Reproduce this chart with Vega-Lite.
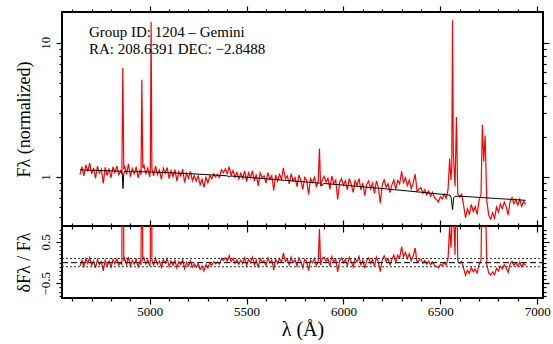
{
  "$schema": "https://vega.github.io/schema/vega-lite/v6.json",
  "padding": {"left": 14, "top": 4, "right": 2, "bottom": 0},
  "background": "white",
  "spacing": 0,
  "bounds": "flush",
  "config": {
    "font": "Liberation Serif",
    "view": {"stroke": "black", "strokeWidth": 2},
    "axis": {"domain": false, "grid": false, "tickColor": "black", "tickWidth": 1.2, "labelFont": "Liberation Serif", "labelFontSize": 13, "labelColor": "black", "titleFont": "Liberation Serif", "titleFontWeight": "normal", "titleColor": "black"}
  },
  "datasets": {
    "spec": [
      {"l":4640,"f":1.042,"r":-0.078},{"l":4650,"f":1.194,"r":0.058},{"l":4660,"f":1.021,"r":-0.095},{"l":4670,"f":1.230,"r":0.092},{"l":4680,"f":1.095,"r":-0.027},{"l":4690,"f":1.266,"r":0.126},{"l":4700,"f":1.054,"r":-0.061},{"l":4710,"f":1.167,"r":0.041},{"l":4720,"f":0.976,"r":-0.129},{"l":4730,"f":1.203,"r":0.075},{"l":4740,"f":1.069,"r":-0.044},{"l":4750,"f":1.143,"r":0.024},{"l":4760,"f":0.895,"r":-0.197},{"l":4770,"f":1.179,"r":0.058},{"l":4780,"f":1.026,"r":-0.078},{"l":4790,"f":1.157,"r":0.041},{"l":4800,"f":0.986,"r":-0.112},{"l":4810,"f":1.192,"r":0.075},{"l":4820,"f":1.078,"r":-0.027},{"l":4830,"f":1.209,"r":0.092},{"l":4840,"f":1.039,"r":-0.061},{"l":4850,"f":1.113,"r":0.007},{"l":4856,"f":1.055,"r":-0.044},{"l":4861,"f":6.5,"r":6.9},{"l":4866,"f":1.141,"r":0.034},{"l":4870,"f":1.216,"r":0.102},{"l":4880,"f":1.046,"r":-0.051},{"l":4890,"f":1.251,"r":0.136},{"l":4900,"f":1.007,"r":-0.085},{"l":4910,"f":1.155,"r":0.051},{"l":4920,"f":1.061,"r":-0.034},{"l":4930,"f":1.190,"r":0.085},{"l":4940,"f":0.984,"r":-0.102},{"l":4950,"f":1.132,"r":0.034},{"l":4955,"f":1.039,"r":-0.051},{"l":4959,"f":5.3,"r":3.84},{"l":4964,"f":1.168,"r":0.068},{"l":4970,"f":1.223,"r":0.119},{"l":4980,"f":1.055,"r":-0.034},{"l":4990,"f":1.165,"r":0.068},{"l":5000,"f":0.997,"r":-0.085},{"l":5003,"f":1.127,"r":0.034},{"l":5007,"f":14.3,"r":12.1},{"l":5011,"f":1.152,"r":0.058},{"l":5020,"f":1.021,"r":-0.061},{"l":5030,"f":1.204,"r":0.109},{"l":5040,"f":1.036,"r":-0.044},{"l":5050,"f":1.127,"r":0.041},{"l":5060,"f":0.960,"r":-0.112},{"l":5070,"f":1.161,"r":0.075},{"l":5080,"f":1.067,"r":-0.010},{"l":5090,"f":1.176,"r":0.092},{"l":5100,"f":0.973,"r":-0.095},{"l":5110,"f":1.118,"r":0.041},{"l":5120,"f":1.007,"r":-0.061},{"l":5130,"f":1.133,"r":0.058},{"l":5140,"f":0.931,"r":-0.129},{"l":5150,"f":1.094,"r":0.024},{"l":5160,"f":1.019,"r":-0.044},{"l":5170,"f":1.145,"r":0.075},{"l":5180,"f":0.908,"r":-0.146},{"l":5190,"f":1.069,"r":0.007},{"l":5200,"f":0.977,"r":-0.078},{"l":5210,"f":1.101,"r":0.041},{"l":5220,"f":0.938,"r":-0.112},{"l":5230,"f":1.026,"r":-0.027},{"l":5240,"f":0.932,"r":-0.114},{"l":5250,"f":1.020,"r":-0.029},{"l":5260,"f":0.875,"r":-0.165},{"l":5270,"f":0.962,"r":-0.080},{"l":5280,"f":0.836,"r":-0.199},{"l":5290,"f":0.994,"r":-0.046},{"l":5300,"f":0.904,"r":-0.131},{"l":5310,"f":1.026,"r":-0.012},{"l":5320,"f":0.971,"r":-0.063},{"l":5330,"f":1.057,"r":0.022},{"l":5340,"f":1.002,"r":-0.029},{"l":5350,"f":1.048,"r":0.017},{"l":5360,"f":0.993,"r":-0.034},{"l":5370,"f":1.131,"r":0.102},{"l":5380,"f":1.076,"r":0.051},{"l":5390,"f":1.146,"r":0.121},{"l":5400,"f":1.057,"r":0.036},{"l":5410,"f":1.192,"r":0.172},{"l":5420,"f":1.034,"r":0.019},{"l":5430,"f":1.118,"r":0.104},{"l":5440,"f":0.995,"r":-0.015},{"l":5450,"f":1.078,"r":0.070},{"l":5460,"f":0.967,"r":-0.038},{"l":5470,"f":1.067,"r":0.064},{"l":5480,"f":0.979,"r":-0.021},{"l":5490,"f":1.112,"r":0.115},{"l":5500,"f":0.923,"r":-0.072},{"l":5510,"f":1.073,"r":0.081},{"l":5520,"f":0.986,"r":-0.004},{"l":5530,"f":1.117,"r":0.132},{"l":5540,"f":0.931,"r":-0.055},{"l":5550,"f":1.045,"r":0.064},{"l":5560,"f":0.859,"r":-0.123},{"l":5570,"f":1.073,"r":0.098},{"l":5580,"f":0.988,"r":0.013},{"l":5590,"f":1.018,"r":0.047},{"l":5600,"f":0.900,"r":-0.072},{"l":5610,"f":1.079,"r":0.115},{"l":5620,"f":0.961,"r":-0.004},{"l":5630,"f":1.024,"r":0.064},{"l":5640,"f":0.793,"r":-0.174},{"l":5650,"f":1.035,"r":0.081},{"l":5660,"f":0.935,"r":-0.021},{"l":5670,"f":1.046,"r":0.098},{"l":5680,"f":0.962,"r":0.013},{"l":5690,"f":1.169,"r":0.234},{"l":5700,"f":0.973,"r":0.030},{"l":5710,"f":1.019,"r":0.081},{"l":5720,"f":0.888,"r":-0.055},{"l":5730,"f":1.061,"r":0.132},{"l":5740,"f":0.931,"r":-0.004},{"l":5750,"f":0.992,"r":0.064},{"l":5760,"f":0.847,"r":-0.089},{"l":5770,"f":1.034,"r":0.115},{"l":5780,"f":0.937,"r":0.013},{"l":5790,"f":0.809,"r":-0.123},{"l":5800,"f":0.995,"r":0.081},{"l":5810,"f":0.945,"r":0.030},{"l":5820,"f":0.740,"r":-0.191},{"l":5830,"f":0.971,"r":0.064},{"l":5840,"f":0.906,"r":-0.004},{"l":5850,"f":0.996,"r":0.098},{"l":5860,"f":0.840,"r":-0.072},{"l":5870,"f":0.945,"r":0.047},{"l":5876,"f":1.63,"r":0.81},{"l":5882,"f":0.851,"r":-0.055},{"l":5890,"f":0.944,"r":0.098},{"l":5900,"f":1.013,"r":0.132},{"l":5910,"f":0.919,"r":0.030},{"l":5920,"f":0.977,"r":0.098},{"l":5930,"f":0.809,"r":-0.089},{"l":5940,"f":1.017,"r":0.149},{"l":5950,"f":0.894,"r":0.013},{"l":5960,"f":0.951,"r":0.081},{"l":5970,"f":0.680,"r":-0.225},{"l":5980,"f":0.916,"r":0.047},{"l":5990,"f":0.973,"r":0.115},{"l":6000,"f":0.867,"r":-0.004},{"l":6010,"f":0.938,"r":0.081},{"l":6020,"f":0.803,"r":-0.072},{"l":6030,"f":0.976,"r":0.132},{"l":6040,"f":0.886,"r":0.030},{"l":6050,"f":0.767,"r":-0.106},{"l":6060,"f":0.939,"r":0.098},{"l":6070,"f":0.864,"r":0.013},{"l":6080,"f":0.977,"r":0.149},{"l":6090,"f":0.801,"r":-0.055},{"l":6100,"f":0.899,"r":0.064},{"l":6110,"f":0.725,"r":-0.140},{"l":6120,"f":0.879,"r":0.047},{"l":6130,"f":0.934,"r":0.115},{"l":6140,"f":0.817,"r":-0.021},{"l":6150,"f":0.900,"r":0.081},{"l":6160,"f":0.756,"r":-0.089},{"l":6170,"f":0.937,"r":0.132},{"l":6180,"f":0.836,"r":0.013},{"l":6190,"f":0.642,"r":-0.220},{"l":6200,"f":0.872,"r":0.064},{"l":6210,"f":0.953,"r":0.166},{"l":6220,"f":0.839,"r":0.030},{"l":6230,"f":0.892,"r":0.098},{"l":6240,"f":0.765,"r":-0.055},{"l":6250,"f":0.873,"r":0.081},{"l":6260,"f":0.952,"r":0.183},{"l":6270,"f":0.811,"r":0.010},{"l":6280,"f":0.944,"r":0.180},{"l":6290,"f":0.887,"r":0.112},{"l":6300,"f":1.100,"r":0.384},{"l":6310,"f":0.908,"r":0.146},{"l":6320,"f":0.986,"r":0.248},{"l":6330,"f":0.862,"r":0.095},{"l":6340,"f":0.953,"r":0.214},{"l":6350,"f":0.817,"r":0.044},{"l":6360,"f":0.907,"r":0.163},{"l":6370,"f":1.050,"r":0.350},{"l":6380,"f":0.783,"r":0.010},{"l":6390,"f":0.812,"r":0.051},{"l":6400,"f":0.835,"r":0.085},{"l":6410,"f":0.754,"r":-0.017},{"l":6420,"f":0.804,"r":0.051},{"l":6430,"f":0.737,"r":-0.034},{"l":6440,"f":0.786,"r":0.034},{"l":6450,"f":0.719,"r":-0.051},{"l":6460,"f":0.768,"r":0.017},{"l":6470,"f":0.701,"r":-0.068},{"l":6480,"f":0.680,"r":-0.094},{"l":6490,"f":0.652,"r":-0.128},{"l":6500,"f":0.713,"r":-0.043},{"l":6510,"f":0.685,"r":-0.077},{"l":6520,"f":0.746,"r":0.008},{"l":6530,"f":0.693,"r":-0.060},{"l":6540,"f":0.809,"r":0.10},{"l":6548,"f":1.37,"r":0.87},{"l":6555,"f":0.95,"r":0.36},{"l":6559,"f":1.2,"r":0.85},{"l":6563,"f":14.7,"r":24.8},{"l":6567,"f":1.5,"r":1.3},{"l":6576,"f":0.85,"r":0.19},{"l":6583,"f":2.8,"r":2.9},{"l":6590,"f":0.75,"r":0.04},{"l":6600,"f":0.708,"r":-0.017},{"l":6610,"f":0.743,"r":0.034},{"l":6620,"f":0.619,"r":-0.136},{"l":6630,"f":0.497,"r":-0.306},{"l":6640,"f":0.580,"r":-0.187},{"l":6650,"f":0.531,"r":-0.255},{"l":6660,"f":0.626,"r":-0.119},{"l":6670,"f":0.553,"r":-0.221},{"l":6680,"f":0.600,"r":-0.153},{"l":6690,"f":0.526,"r":-0.255},{"l":6700,"f":0.669,"r":-0.051},{"l":6710,"f":0.739,"r":0.05},{"l":6717,"f":2.45,"r":2.48},{"l":6724,"f":1.3,"r":0.85},{"l":6731,"f":2.04,"r":1.91},{"l":6740,"f":0.664,"r":-0.05},{"l":6750,"f":0.519,"r":-0.256},{"l":6760,"f":0.487,"r":-0.300},{"l":6770,"f":0.540,"r":-0.222},{"l":6780,"f":0.492,"r":-0.290},{"l":6790,"f":0.597,"r":-0.137},{"l":6800,"f":0.549,"r":-0.205},{"l":6810,"f":0.629,"r":-0.086},{"l":6820,"f":0.581,"r":-0.154},{"l":6830,"f":0.650,"r":-0.052},{"l":6840,"f":0.602,"r":-0.120},{"l":6850,"f":0.520,"r":-0.239},{"l":6860,"f":0.658,"r":-0.035},{"l":6870,"f":0.703,"r":0.033},{"l":6880,"f":0.632,"r":-0.069},{"l":6890,"f":0.679,"r":0.002},{"l":6900,"f":0.618,"r":-0.086},{"l":6910,"f":0.685,"r":0.016},{"l":6920,"f":0.604,"r":-0.103},{"l":6930,"f":0.660,"r":-0.018},{"l":6940,"f":0.624,"r":-0.069}
    ],
    "model": [
      {"l":4640,"m":1.13},{"l":4660,"m":1.128},{"l":4664,"m":1.11},{"l":4668,"m":1.127},{"l":4700,"m":1.123},{"l":4704,"m":1.108},{"l":4708,"m":1.122},{"l":4800,"m":1.11},{"l":4854,"m":1.104},{"l":4858,"m":1.06},{"l":4862,"m":0.82},{"l":4866,"m":1.06},{"l":4870,"m":1.103},{"l":4918,"m":1.098},{"l":4922,"m":1.075},{"l":4926,"m":1.097},{"l":5000,"m":1.09},{"l":5200,"m":1.06},{"l":5400,"m":1.02},{"l":5410,"m":1.0},{"l":5418,"m":1.017},{"l":5600,"m":0.97},{"l":5880,"m":0.9},{"l":5890,"m":0.86},{"l":5898,"m":0.895},{"l":6000,"m":0.87},{"l":6200,"m":0.82},{"l":6400,"m":0.77},{"l":6550,"m":0.7325},{"l":6556,"m":0.7},{"l":6563,"m":0.57},{"l":6569,"m":0.7},{"l":6575,"m":0.716},{"l":6600,"m":0.72},{"l":6800,"m":0.69},{"l":6940,"m":0.6704}
    ],
    "dotted": [
      {"l":4547,"v":0.1,"g":"a"},{"l":7030,"v":0.1,"g":"a"},{"l":4547,"v":-0.1,"g":"b"},{"l":7030,"v":-0.1,"g":"b"}
    ],
    "zero": [
      {"l":4547,"v":0},{"l":7030,"v":0}
    ]
  },
  "vconcat": [
    {
      "width": 481,
      "height": 214,
      "resolve": {"axis": {"x": "independent", "y": "independent"}},
      "layer": [
        {
          "data": {"name": "spec"},
          "mark": {"type": "line", "color": "#ff0000", "strokeWidth": 1.2, "clip": true},
          "encoding": {
            "x": {"field": "l", "type": "quantitative", "scale": {"domain": [4547, 7030], "nice": false, "zero": false},
                  "axis": {"orient": "bottom", "values": [5000, 5500, 6000, 6500, 7000], "labels": false, "tickSize": 6, "title": null}},
            "y": {"field": "f", "type": "quantitative", "scale": {"type": "log", "domain": [0.4315, 16.93], "nice": false},
                  "axis": {"orient": "left", "values": [1, 10], "tickSize": 6, "labelAngle": -90, "labelAlign": "center", "labelBaseline": "bottom", "labelPadding": 4, "format": "d", "title": "Fλ (normalized)", "titleFontSize": 18, "titlePadding": 6}}
          }
        },
        {
          "data": {"name": "model"},
          "mark": {"type": "line", "color": "black", "strokeWidth": 1, "clip": true},
          "encoding": {
            "x": {"field": "l", "type": "quantitative",
                  "axis": {"orient": "bottom", "values": [4600, 4700, 4800, 4900, 5100, 5200, 5300, 5400, 5600, 5700, 5800, 5900, 6100, 6200, 6300, 6400, 6600, 6700, 6800, 6900], "labels": false, "tickSize": 3, "title": null}},
            "y": {"field": "m", "type": "quantitative",
                  "axis": {"orient": "left", "values": [0.5, 0.6, 0.7, 0.8, 0.9, 2, 3, 4, 5, 6, 7, 8, 9], "labels": false, "tickSize": 3, "title": null}}
          }
        },
        {
          "data": {"values": [{"l": 4686, "f": 12.0, "t": "Group ID: 1204 – Gemini"}]},
          "mark": {"type": "text", "align": "left", "baseline": "middle", "fontSize": 15, "font": "Liberation Serif", "color": "black"},
          "encoding": {
            "x": {"field": "l", "type": "quantitative",
                  "axis": {"orient": "top", "values": [5000, 5500, 6000, 6500, 7000], "labels": false, "tickSize": 6, "title": null}},
            "y": {"field": "f", "type": "quantitative",
                  "axis": {"orient": "right", "values": [1, 10], "labels": false, "tickSize": 6, "title": null}},
            "text": {"field": "t"}
          }
        },
        {
          "data": {"values": [{"l": 4686, "f": 8.98, "t": "RA: 208.6391  DEC: −2.8488"}]},
          "mark": {"type": "text", "align": "left", "baseline": "middle", "fontSize": 15, "font": "Liberation Serif", "color": "black"},
          "encoding": {
            "x": {"field": "l", "type": "quantitative",
                  "axis": {"orient": "top", "values": [4600, 4700, 4800, 4900, 5100, 5200, 5300, 5400, 5600, 5700, 5800, 5900, 6100, 6200, 6300, 6400, 6600, 6700, 6800, 6900], "labels": false, "tickSize": 3, "title": null}},
            "y": {"field": "f", "type": "quantitative",
                  "axis": {"orient": "right", "values": [0.5, 0.6, 0.7, 0.8, 0.9, 2, 3, 4, 5, 6, 7, 8, 9], "labels": false, "tickSize": 3, "title": null}},
            "text": {"field": "t"}
          }
        }
      ]
    },
    {
      "width": 481,
      "height": 72,
      "resolve": {"axis": {"x": "independent", "y": "independent"}},
      "layer": [
        {
          "data": {"name": "spec"},
          "mark": {"type": "line", "color": "#ff0000", "strokeWidth": 1.2, "clip": true},
          "encoding": {
            "x": {"field": "l", "type": "quantitative", "scale": {"domain": [4547, 7030], "nice": false, "zero": false},
                  "axis": {"orient": "bottom", "values": [5000, 5500, 6000, 6500, 7000], "format": "d", "tickSize": 6, "labelPadding": 1, "title": "λ (Å)", "titleFontSize": 20, "titlePadding": 1}},
            "y": {"field": "r", "type": "quantitative", "scale": {"domain": [-0.855, 0.885], "nice": false, "zero": false},
                  "axis": {"orient": "left", "values": [-0.5, 0.5], "format": ".1f", "tickSize": 6, "labelAngle": -90, "labelAlign": "center", "labelBaseline": "bottom", "labelPadding": 4, "title": "δFλ / Fλ", "titleFontSize": 18, "titlePadding": 6}}
          }
        },
        {
          "data": {"name": "dotted"},
          "mark": {"type": "line", "color": "#333333", "strokeWidth": 1, "strokeDash": [2, 2]},
          "encoding": {
            "x": {"field": "l", "type": "quantitative",
                  "axis": {"orient": "bottom", "values": [4600, 4700, 4800, 4900, 5100, 5200, 5300, 5400, 5600, 5700, 5800, 5900, 6100, 6200, 6300, 6400, 6600, 6700, 6800, 6900], "labels": false, "tickSize": 3, "title": null}},
            "y": {"field": "v", "type": "quantitative",
                  "axis": {"orient": "left", "values": [-0.8, -0.7, -0.6, -0.4, -0.3, -0.2, -0.1, 0, 0.1, 0.2, 0.3, 0.4, 0.6, 0.7, 0.8], "labels": false, "tickSize": 3, "title": null}},
            "detail": {"field": "g"}
          }
        },
        {
          "data": {"name": "zero"},
          "mark": {"type": "line", "color": "#222222", "strokeWidth": 1, "strokeDash": [6, 3]},
          "encoding": {
            "x": {"field": "l", "type": "quantitative",
                  "axis": {"orient": "top", "values": [5000, 5500, 6000, 6500, 7000], "labels": false, "tickSize": 6, "title": null}},
            "y": {"field": "v", "type": "quantitative",
                  "axis": {"orient": "right", "values": [-0.5, 0.5], "labels": false, "tickSize": 6, "title": null}}
          }
        },
        {
          "data": {"name": "zero"},
          "mark": {"type": "line", "color": "#222222", "strokeWidth": 1, "strokeDash": [6, 3]},
          "encoding": {
            "x": {"field": "l", "type": "quantitative",
                  "axis": {"orient": "top", "values": [4600, 4700, 4800, 4900, 5100, 5200, 5300, 5400, 5600, 5700, 5800, 5900, 6100, 6200, 6300, 6400, 6600, 6700, 6800, 6900], "labels": false, "tickSize": 3, "title": null}},
            "y": {"field": "v", "type": "quantitative",
                  "axis": {"orient": "right", "values": [-0.8, -0.7, -0.6, -0.4, -0.3, -0.2, -0.1, 0, 0.1, 0.2, 0.3, 0.4, 0.6, 0.7, 0.8], "labels": false, "tickSize": 3, "title": null}}
          }
        }
      ]
    }
  ]
}
